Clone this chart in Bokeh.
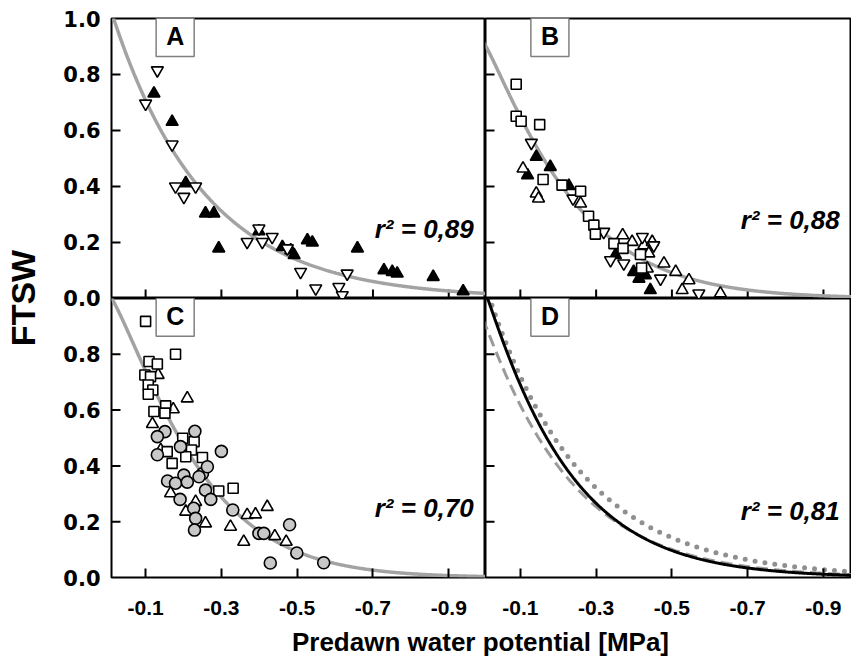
import numpy as np
from bokeh.plotting import figure
from bokeh.layouts import row, column
from bokeh.models import Range1d, FixedTicker, Label
from bokeh.embed import file_html
from bokeh.resources import INLINE

# ---------------- axis ticks and labels ----------------
x_ticks = [-0.1, -0.3, -0.5, -0.7, -0.9]
x_tick_labels = ["-0.1", "-0.3", "-0.5", "-0.7", "-0.9"]
y_ticks_upper = [0.0, 0.2, 0.4, 0.6, 0.8, 1.0]
y_tick_labels_upper = ["0.0", "0.2", "0.4", "0.6", "0.8", "1.0"]
y_ticks_lower = [0.0, 0.2, 0.4, 0.6, 0.8]
y_tick_labels_lower = ["0.0", "0.2", "0.4", "0.6", "0.8"]
x_title = "Predawn water potential [MPa]"
y_title = "FTSW"

# ---------------- data ----------------
# Panel A
a_open_down_x = [-0.131, -0.100, -0.170, -0.179, -0.201, -0.232, -0.368, -0.399, -0.408,
                 -0.434, -0.474, -0.509, -0.549, -0.610, -0.619, -0.632]
a_open_down_y = [0.815, 0.696, 0.550, 0.400, 0.363, 0.400, 0.202, 0.250, 0.202,
                 0.220, 0.179, 0.095, 0.036, 0.041, 0.012, 0.089]
a_filled_up_x = [-0.122, -0.170, -0.206, -0.258, -0.280, -0.293, -0.399, -0.461, -0.483,
                 -0.492, -0.527, -0.540, -0.659, -0.729, -0.751, -0.764, -0.859, -0.938]
a_filled_up_y = [0.732, 0.631, 0.412, 0.304, 0.304, 0.179, 0.240, 0.184, 0.172,
                 0.155, 0.208, 0.200, 0.179, 0.101, 0.095, 0.089, 0.077, 0.026]

# Panel B
b_square_x = [-0.089, -0.089, -0.102, -0.151, -0.160, -0.210, -0.259, -0.280, -0.294,
              -0.298, -0.347, -0.371, -0.417, -0.420]
b_square_y = [0.765, 0.651, 0.633, 0.621, 0.425, 0.405, 0.383, 0.294, 0.262,
              0.230, 0.196, 0.179, 0.157, 0.109]
b_open_down_x = [-0.129, -0.239, -0.320, -0.338, -0.373, -0.422, -0.452, -0.470, -0.571]
b_open_down_y = [0.556, 0.357, 0.238, 0.137, 0.125, 0.220, 0.190, 0.071, 0.018]
b_filled_up_x = [-0.142, -0.119, -0.179, -0.228, -0.351, -0.399, -0.413, -0.430, -0.443]
b_filled_up_y = [0.506, 0.440, 0.470, 0.402, 0.155, 0.095, 0.071, 0.083, 0.030]
b_open_up_x = [-0.107, -0.142, -0.148, -0.259, -0.370, -0.395, -0.426, -0.448, -0.439,
               -0.435, -0.479, -0.510, -0.545, -0.527, -0.628]
b_open_up_y = [0.464, 0.375, 0.357, 0.339, 0.226, 0.202, 0.190, 0.202, 0.161,
               0.107, 0.125, 0.095, 0.065, 0.030, 0.018]

# Panel C
c_square_x = [-0.100, -0.179, -0.109, -0.131, -0.098, -0.113, -0.107, -0.119, -0.107,
              -0.153, -0.122, -0.151, -0.198, -0.228, -0.157, -0.221, -0.250, -0.170,
              -0.206, -0.293, -0.331]
c_square_y = [0.918, 0.800, 0.774, 0.765, 0.726, 0.720, 0.690, 0.672, 0.657,
              0.615, 0.595, 0.589, 0.499, 0.487, 0.451, 0.457, 0.430, 0.409,
              0.433, 0.310, 0.320]
c_open_up_x = [-0.133, -0.210, -0.173, -0.118, -0.140, -0.166, -0.232, -0.206, -0.258,
               -0.324, -0.359, -0.368, -0.390, -0.421, -0.441, -0.471]
c_open_up_y = [0.726, 0.642, 0.603, 0.550, 0.457, 0.302, 0.271, 0.236, 0.194,
               0.182, 0.128, 0.224, 0.226, 0.253, 0.148, 0.128]
c_circle_x = [-0.151, -0.131, -0.230, -0.192, -0.131, -0.300, -0.201, -0.250, -0.263,
              -0.158, -0.179, -0.210, -0.241, -0.258, -0.272, -0.191, -0.227, -0.232,
              -0.229, -0.330, -0.399, -0.412, -0.480, -0.499, -0.429, -0.570]
c_circle_y = [0.523, 0.505, 0.524, 0.469, 0.440, 0.452, 0.367, 0.372, 0.397,
              0.346, 0.338, 0.342, 0.361, 0.313, 0.280, 0.280, 0.248, 0.212,
              0.170, 0.242, 0.158, 0.158, 0.189, 0.088, 0.052, 0.053]

# Fitted curves, FTSW = a * exp(-k * |psi|^p)  (parameters)
fit_a = dict(a=1.066, k=4.09, p=1.00)
fit_b = dict(a=0.920, k=5.17, p=1.17)
fit_c = dict(a=1.020, k=5.70, p=1.25)
fit_d_solid = dict(a=1.050, k=5.04, p=1.08)
fit_d_dashed = dict(a=0.930, k=4.60, p=1.05)
fit_d_dotted = dict(a=1.080, k=4.05, p=1.00)

r2_text = {"A": "r\u00b2 = 0,89", "B": "r\u00b2 = 0,88", "C": "r\u00b2 = 0,70", "D": "r\u00b2 = 0,81"}

# x-axis limits of the left and right column
x_lim_left = (-0.010, -0.997)
x_lim_right = (-0.008, -0.974)

psi = np.linspace(-0.0005, -1.0, 500)


def curve(par):
    return par["a"] * np.exp(-par["k"] * np.abs(psi) ** par["p"])


FONT = "Liberation Sans"
WIDE = "DejaVu Sans"
NARROW = "Liberation Sans Narrow, Liberation Sans"
CURVE_GRAY = "#a3a3a3"
TICK_LEN = 9


def make_panel(letter, xlim, width, height, left, top, bottom, with_x_axis, y_tick_marks, r2_y):
    p = figure(width=width, height=height, x_range=Range1d(*xlim), y_range=Range1d(0, 1.0),
               output_backend="svg", toolbar_location=None,
               min_border_left=left, min_border_right=0, min_border_top=top,
               min_border_bottom=bottom)
    p.grid.visible = False
    p.yaxis.visible = False
    p.outline_line_color = "black"
    p.outline_line_width = 2
    p.background_fill_color = "white"
    p.border_fill_color = "white"
    if with_x_axis:
        xa = p.xaxis[0]
        xa.ticker = FixedTicker(ticks=x_ticks)
        xa.major_label_overrides = dict(zip(x_ticks, x_tick_labels))
        xa.axis_line_color = None
        xa.major_tick_in = TICK_LEN
        xa.major_tick_out = 0
        xa.major_tick_line_width = 2
        xa.major_tick_line_color = "black"
        xa.minor_tick_line_color = None
        xa.major_label_text_font_size = "21px"
        xa.major_label_text_font = NARROW
        xa.major_label_text_font_style = "bold"
        xa.major_label_text_color = "black"
        xa.major_label_standoff = 23
    else:
        p.xaxis.visible = False
        # inward tick marks on the bottom edge
        p.ray(x=x_ticks, y=[0.0] * len(x_ticks), length=TICK_LEN, length_units="screen",
              angle=np.pi / 2, line_color="black", line_width=2)
    # inward tick marks on the left edge
    p.ray(x=[xlim[0]] * len(y_tick_marks), y=y_tick_marks, length=TICK_LEN,
          length_units="screen", angle=0.0, line_color="black", line_width=2)
    p.add_layout(Label(x=-0.178, y=0.936, text=letter, text_font=FONT, text_font_size="25px",
                       text_font_style="bold", text_align="center", text_baseline="middle",
                       text_color="black", border_line_color="#808080", border_line_width=1.5,
                       background_fill_color="white", padding=(10, 6)))
    p.add_layout(Label(x=xlim[1] + 0.031, y=r2_y, text=r2_text[letter], text_font=FONT,
                       text_font_size="26px", text_font_style="bold italic",
                       text_align="right", text_baseline="middle", text_color="black"))
    return p


def add_points(p, xs, ys, marker, size, fill):
    p.scatter(xs, ys, marker=marker, size=size, fill_color=fill, line_color="black",
              line_width=1.6)


TOP_H = 298
BOT_H = 327
LEFT_W = 376
RIGHT_W = 366
inner_y_marks = [0.2, 0.4, 0.6, 0.8]

pa = make_panel("A", x_lim_left, LEFT_W, TOP_H, 2, 18, 0, False, inner_y_marks, 0.25)
pb = make_panel("B", x_lim_right, RIGHT_W, TOP_H, 0, 18, 0, False, inner_y_marks, 0.28)
pc = make_panel("C", x_lim_left, LEFT_W, BOT_H, 2, 0, 48, True, inner_y_marks, 0.25)
pd = make_panel("D", x_lim_right, RIGHT_W, BOT_H, 0, 0, 48, True, inner_y_marks, 0.24)

# panel A
pa.line(psi, curve(fit_a), line_color=CURVE_GRAY, line_width=3.5)
add_points(pa, a_filled_up_x, a_filled_up_y, "triangle", 12, "black")
add_points(pa, a_open_down_x, a_open_down_y, "inverted_triangle", 12, "white")

# panel B
pb.line(psi, curve(fit_b), line_color=CURVE_GRAY, line_width=3.5)
add_points(pb, b_filled_up_x, b_filled_up_y, "triangle", 12, "black")
add_points(pb, b_open_up_x, b_open_up_y, "triangle", 12, "white")
add_points(pb, b_open_down_x, b_open_down_y, "inverted_triangle", 12, "white")
add_points(pb, b_square_x, b_square_y, "square", 10, "white")

# panel C
pc.line(psi, curve(fit_c), line_color=CURVE_GRAY, line_width=3.5)
add_points(pc, c_open_up_x, c_open_up_y, "triangle", 12, "white")
add_points(pc, c_square_x, c_square_y, "square", 10, "white")
add_points(pc, c_circle_x, c_circle_y, "circle", 12, "#c8c8c8")

# panel D
pd.line(psi, curve(fit_d_dotted), line_color="#8f8f8f", line_width=5, line_dash="0 10",
        line_cap="round")
pd.line(psi, curve(fit_d_dashed), line_color="#9a9a9a", line_width=3, line_dash="12 6")
pd.line(psi, curve(fit_d_solid), line_color="black", line_width=3)

# ---------------- shared y tick labels and y title ----------------
ylab_positions = y_ticks_lower + [1.0 + t for t in y_ticks_upper]
ylab_texts = y_tick_labels_lower + y_tick_labels_upper
ylab = figure(width=109, height=666, x_range=Range1d(0, 1), y_range=Range1d(0, 2),
              output_backend="svg", toolbar_location=None,
              min_border_left=107, min_border_right=0, min_border_top=18, min_border_bottom=89)
ylab.grid.visible = False
ylab.outline_line_color = None
ylab.xaxis.visible = False
ya = ylab.yaxis[0]
ya.ticker = FixedTicker(ticks=ylab_positions)
ya.major_label_overrides = dict(zip(ylab_positions, ylab_texts))
ya.axis_line_color = None
ya.major_tick_in = 0
ya.major_tick_out = 0
ya.minor_tick_line_color = None
ya.major_label_standoff = 7
ya.major_label_text_font = WIDE
ya.major_label_text_font_size = "21px"
ya.major_label_text_font_style = "bold"
ya.major_label_text_color = "black"
ya.axis_label = y_title
ya.axis_label_text_font = NARROW
ya.axis_label_text_font_size = "34px"
ya.axis_label_text_font_style = "bold"
ya.axis_label_text_color = "black"
ya.axis_label_standoff = 18

# ---------------- shared x title ----------------
xlab = figure(width=LEFT_W + RIGHT_W, height=666 - TOP_H - BOT_H, x_range=Range1d(0, 1),
              y_range=Range1d(0, 1), output_backend="svg", toolbar_location=None,
              min_border_left=0, min_border_right=0, min_border_top=0,
              min_border_bottom=666 - TOP_H - BOT_H - 1)
xlab.grid.visible = False
xlab.outline_line_color = None
xlab.yaxis.visible = False
xa2 = xlab.xaxis[0]
xa2.ticker = FixedTicker(ticks=[])
xa2.axis_line_color = None
xa2.major_tick_in = 0
xa2.major_tick_out = 0
xa2.minor_tick_line_color = None
xa2.major_label_standoff = 0
xa2.axis_label = x_title
xa2.axis_label_text_font = NARROW
xa2.axis_label_text_font_size = "26px"
xa2.axis_label_text_font_style = "bold"
xa2.axis_label_text_color = "black"
xa2.axis_label_standoff = 0

layout = row(ylab, column(row(pa, pb), row(pc, pd), xlab))

open("out.html", "w").write(file_html(layout, INLINE))
